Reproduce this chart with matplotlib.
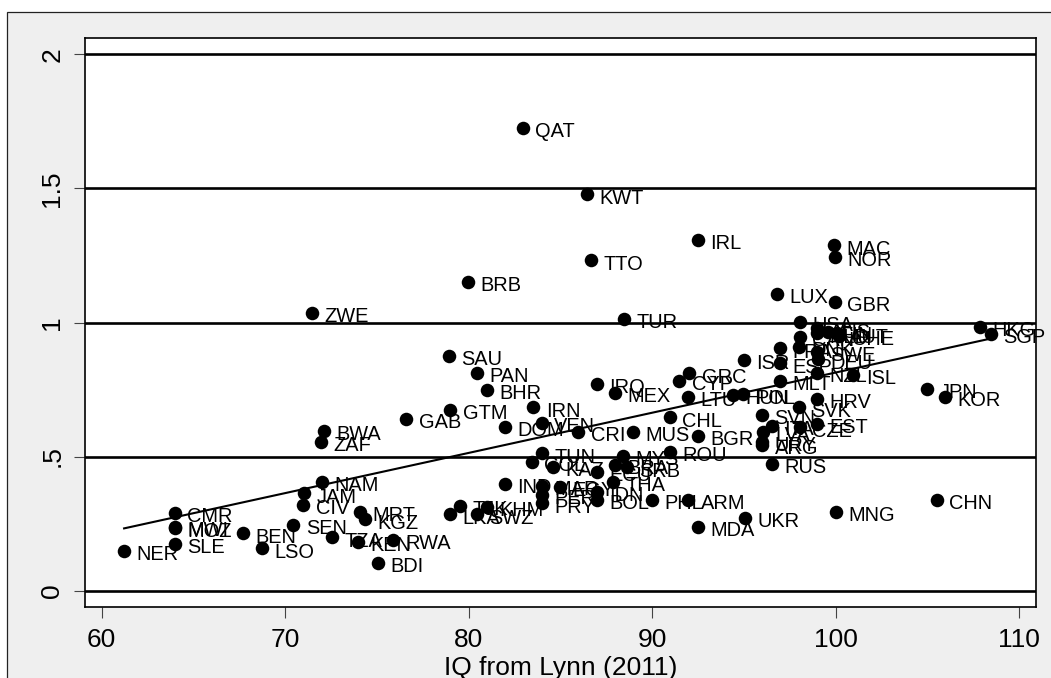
import numpy as np
import matplotlib.pyplot as plt
from matplotlib.patches import Rectangle

plt.rcParams['font.family'] = ['Liberation Sans', 'DejaVu Sans']

# country codes, IQ (x) and ratio (y)
codes = ["QAT", "KWT", "IRL", "MAC", "NOR", "TTO", "BRB", "LUX", "GBR", "ZWE",
         "TUR", "USA", "HKG", "SGP", "AUS", "NLD", "FIN", "AUT", "CHE", "CAN",
         "DNK", "FRA", "ISR", "ESP", "SWE", "DEU", "NZL", "ISL", "MLT", "JPN",
         "KOR", "HRV", "SVK", "SVN", "EST", "ITA", "CZE", "LVA", "URY", "ARG",
         "RUS", "UKR", "MNG", "CHN", "MDA", "CYP", "GRC", "LTU", "HUN", "POL",
         "CHL", "BGR", "ROU", "IRQ", "MEX", "IRN", "VEN", "DOM", "CRI", "MUS",
         "SAU", "PAN", "BHR", "GTM", "GAB", "BWA", "ZAF", "NAM", "JAM", "CIV",
         "TUN", "COL", "KAZ", "ECU", "BRA", "SRB", "MYS", "THA", "IND", "MAR",
         "EGY", "PER", "PRY", "IDN", "BOL", "PHL", "ARM", "TJK", "KHM", "LKA",
         "SWZ", "NER", "CMR", "MWI", "MOZ", "SLE", "BEN", "LSO", "SEN", "TZA",
         "KEN", "RWA", "BDI", "MRT", "KGZ"]
iq = [82.96, 86.46, 92.5, 99.9, 99.96, 86.67, 79.96, 96.8, 99.96, 71.46,
      88.47, 98.05, 107.86, 108.46, 99.0, 99.0, 99.6, 100.06, 100.2, 98.05,
      98.0, 96.96, 95.0, 96.96, 99.0, 99.05, 98.96, 100.96, 96.96, 104.98,
      105.96, 98.96, 98.0, 95.97, 99.0, 96.5, 98.05, 96.06, 96.0, 96.0,
      96.5, 95.06, 100.0, 105.5, 92.5, 91.48, 92.02, 91.97, 94.42, 94.97,
      90.97, 92.5, 90.97, 86.97, 87.97, 83.52, 83.98, 81.98, 85.97, 88.97,
      78.93, 80.45, 81.01, 78.99, 76.6, 72.1, 71.96, 71.99, 71.02, 70.99,
      83.98, 83.43, 84.6, 86.97, 87.97, 88.6, 88.42, 87.88, 81.98, 83.98,
      84.97, 83.98, 83.98, 86.97, 86.97, 89.97, 91.97, 79.53, 80.98, 78.98,
      80.44, 61.22, 64.0, 64.0, 64.0, 64.0, 67.72, 68.72, 70.44, 72.53,
      73.98, 75.9, 75.07, 74.08, 74.35]
ratio = [1.725, 1.478, 1.307, 1.288, 1.244, 1.232, 1.151, 1.106, 1.076, 1.035,
         1.013, 1.003, 0.983, 0.957, 0.978, 0.96, 0.966, 0.96, 0.95, 0.947,
         0.91, 0.904, 0.86, 0.848, 0.89, 0.863, 0.813, 0.804, 0.782, 0.752,
         0.722, 0.715, 0.684, 0.655, 0.621, 0.614, 0.609, 0.593, 0.556, 0.543,
         0.472, 0.272, 0.293, 0.338, 0.239, 0.783, 0.81, 0.723, 0.73, 0.732,
         0.646, 0.577, 0.518, 0.771, 0.738, 0.684, 0.627, 0.611, 0.593, 0.593,
         0.875, 0.813, 0.748, 0.674, 0.64, 0.595, 0.555, 0.406, 0.363, 0.32,
         0.512, 0.481, 0.462, 0.444, 0.469, 0.46, 0.502, 0.406, 0.398, 0.39,
         0.388, 0.357, 0.326, 0.369, 0.338, 0.338, 0.338, 0.316, 0.313, 0.285,
         0.285, 0.148, 0.289, 0.238, 0.233, 0.174, 0.214, 0.158, 0.245, 0.199,
         0.183, 0.19, 0.104, 0.295, 0.266]

yticks = [0, 0.5, 1, 1.5, 2]
ytick_labels = ["0", ".5", "1", "1.5", "2"]
xticks = [60, 70, 80, 90, 100, 110]

W, H = 1051, 678
fig = plt.figure(figsize=(W / 100, H / 100), dpi=100)
fig.patch.set_facecolor("white")
fig.patches.append(Rectangle((7.3 / W, -0.05), 1.1, (H - 11.7) / H + 0.05,
                             transform=fig.transFigure, facecolor="#efefef",
                             edgecolor="#222222", lw=0.9, zorder=-10))

ax = fig.add_axes([85 / W, (H - 606.7) / H, (1036 - 85) / W, (606.7 - 38.3) / H])
ax.set_facecolor("white")
ax.set_xlim(59.09, 110.91)
ax.set_ylim(-0.06, 2.06)

for v in yticks:
    ax.axhline(v, color="black", lw=1.9, zorder=1)

ax.scatter(iq, ratio, s=95, color="black", linewidths=0, zorder=3)
for c, x, y in zip(codes, iq, ratio):
    ax.annotate(c, (x, y), xytext=(8.9, -6.7), textcoords="offset points",
                fontsize=14.4, ha="left", va="baseline", zorder=4)

# linear fit
b, a = np.polyfit(iq, ratio, 1)
fx = np.array([min(iq), max(iq)])
ax.plot(fx, a + b * fx, color="black", lw=1.5, zorder=2)

ax.set_xticks(xticks)
ax.set_yticks(yticks)
ax.set_yticklabels(ytick_labels)
ax.tick_params(direction="out", length=8, width=0.8, color="#444444", labelsize=19)
ax.tick_params(axis="x", pad=7)
ax.tick_params(axis="y", labelrotation=90, pad=7)
for lab in ax.get_yticklabels():
    lab.set_va("center")
for s in ax.spines.values():
    s.set_linewidth(1.2)
    s.set_color("black")

ax.set_xlabel("IQ from Lynn (2011)", fontsize=19, labelpad=3)

fig.savefig("out.png", dpi=100)
